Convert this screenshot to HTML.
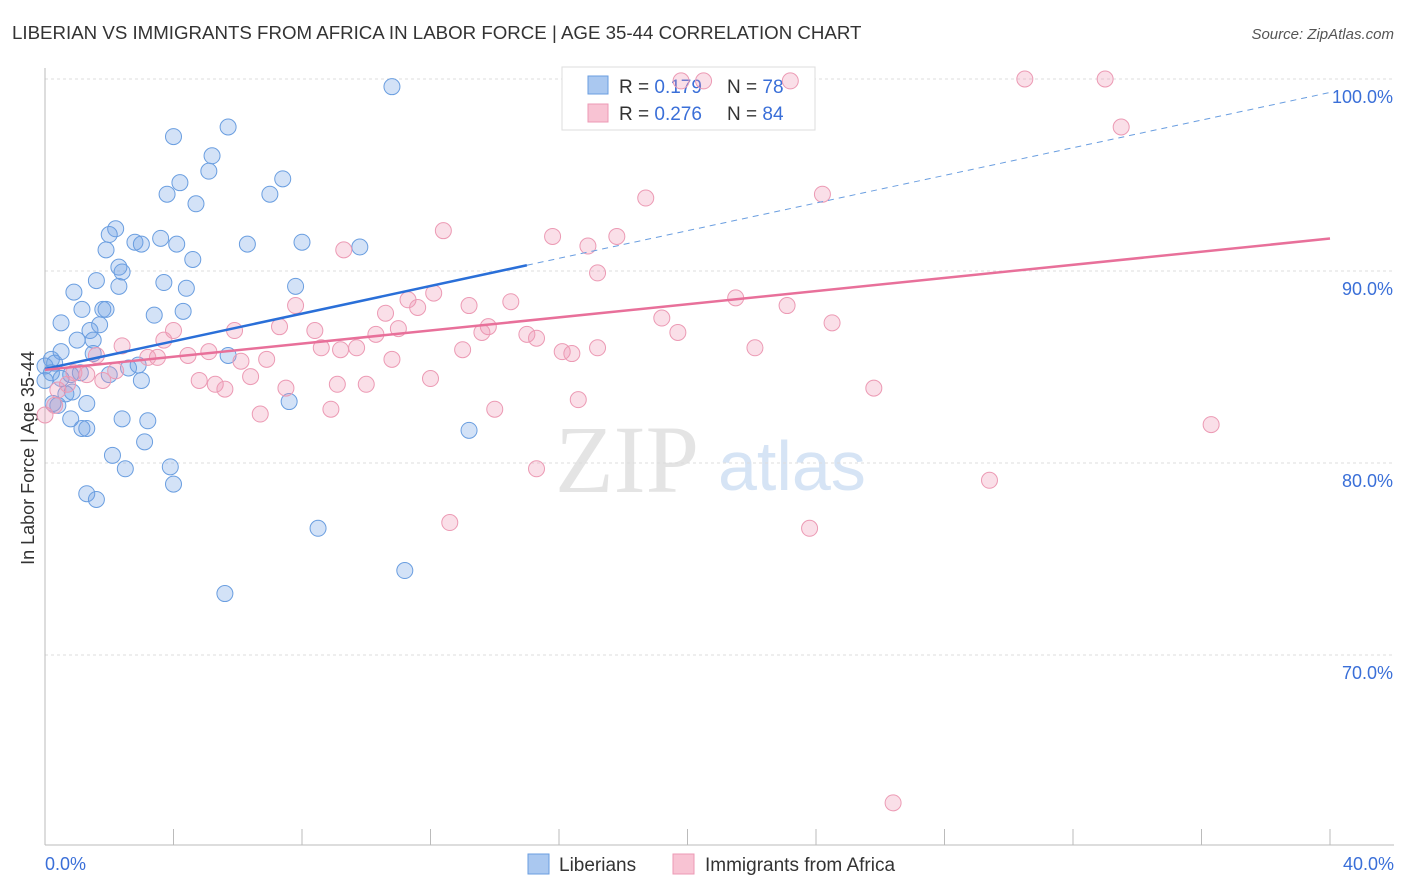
<!DOCTYPE html>
<html><head><meta charset="utf-8"><style>
body{margin:0;background:#fff;font-family:"Liberation Sans",sans-serif;}
#c{position:absolute;left:0;top:0;}
</style></head><body>
<svg id="c" width="1406" height="892">
<text x="12" y="39" font-size="18.7" fill="#333">LIBERIAN VS IMMIGRANTS FROM AFRICA IN LABOR FORCE | AGE 35-44 CORRELATION CHART</text>
<text x="1394" y="39" font-size="15" fill="#555" font-style="italic" text-anchor="end">Source: ZipAtlas.com</text>
<text transform="translate(34,458) rotate(-90)" font-size="18" fill="#333" text-anchor="middle">In Labor Force | Age 35-44</text>
<text x="555" y="492" font-size="96" fill="#e4e4e4" font-family="Liberation Serif,serif">ZIP</text>
<text x="718" y="490" font-size="70" fill="#d6e4f5">atlas</text>
<g id="grid"></g><g id="axes"></g>
<g>
<rect x="562" y="67" width="253" height="63" fill="#fff" stroke="#ddd"/>
<rect x="588" y="76" width="20" height="18" fill="#aac8f0" stroke="#6a9ee0"/>
<text x="619" y="93" font-size="19" fill="#333">R = <tspan fill="#3a6fd8">0.179</tspan></text>
<text x="727" y="93" font-size="19" fill="#333">N = <tspan fill="#3a6fd8">78</tspan></text>
<rect x="588" y="104" width="20" height="18" fill="#f8c3d3" stroke="#ec9ab4"/>
<text x="619" y="120" font-size="19" fill="#333">R = <tspan fill="#3a6fd8">0.276</tspan></text>
<text x="727" y="120" font-size="19" fill="#333">N = <tspan fill="#3a6fd8">84</tspan></text>
</g>
<g id="pts"></g><g id="lines"></g>
<g>
<rect x="528" y="854" width="21" height="20" fill="#aac8f0" stroke="#6a9ee0"/>
<text x="559" y="871" font-size="19" fill="#333">Liberians</text>
<rect x="673" y="854" width="21" height="20" fill="#f8c3d3" stroke="#ec9ab4"/>
<text x="705" y="871" font-size="19" fill="#333">Immigrants from Africa</text>
</g>
</svg>
<script>
const yTicks=[70,80,90,100];
const xTickLabels=["0.0%","40.0%"];
const blueX=[10.8,4.0,5.7,5.2,5.1,4.2,7.4,3.8,4.7,7.0,2.2,2.0,1.9,2.8,3.0,3.6,4.1,6.3,8.0,9.8,4.6,2.3,2.4,1.6,2.3,3.7,4.4,7.8,0.9,1.15,1.8,1.9,3.4,4.3,0.5,1.7,1.4,1.0,1.5,0.5,0.2,1.5,5.7,0,0.3,0.2,0,0.5,0.8,1.1,2.0,2.9,2.6,3.0,0.65,0.85,0.25,1.3,0.8,2.4,3.2,1.15,1.3,3.1,2.1,2.5,3.9,4.0,1.3,1.6,7.6,13.2,8.5,11.2,5.6,0.4];
const blueY=[99.6,97.0,97.5,96.0,95.2,94.6,94.8,94.0,93.5,94.0,92.2,91.9,91.1,91.5,91.4,91.7,91.4,91.4,91.5,91.25,90.6,90.2,89.95,89.5,89.2,89.4,89.1,89.2,88.9,88.0,88.0,88.0,87.7,87.9,87.3,87.2,86.9,86.4,86.4,85.8,85.4,85.7,85.6,85.05,85.2,84.7,84.3,84.4,84.6,84.7,84.6,85.1,84.95,84.3,83.6,83.7,83.1,83.1,82.3,82.3,82.2,81.8,81.8,81.1,80.4,79.7,79.8,78.9,78.4,78.1,83.2,81.7,76.6,74.4,73.2,83.0];
const pinkX=[19.8,20.5,23.2,30.5,33.0,33.5,18.7,24.2,12.4,15.8,16.9,17.8,9.3,17.2,21.5,23.1,19.2,24.5,19.7,14.5,13.2,11.3,12.1,11.6,10.6,11.0,7.8,7.3,8.4,5.9,4.0,2.4,3.7,13.8,13.6,15.0,15.3,13.0,16.1,16.4,17.2,22.1,10.3,9.7,9.2,8.6,5.1,4.45,3.5,3.2,1.6,6.9,6.1,10.8,2.2,1.3,0.9,1.8,6.4,4.8,5.3,5.6,7.5,10.0,12.0,9.1,0.4,0.7,0.3,16.6,14.0,6.7,8.9,36.3,25.8,15.3,29.4,12.6,23.8,26.4,0];
const pinkY=[99.9,99.9,99.9,100.0,100.0,97.5,93.8,94.0,92.1,91.8,91.3,91.8,91.1,89.9,88.6,88.2,87.55,87.3,86.8,88.4,88.2,88.5,88.85,88.1,87.8,87.0,88.2,87.1,86.9,86.9,86.9,86.1,86.4,87.1,86.8,86.7,86.5,85.9,85.8,85.7,86.0,86.0,86.7,86.0,85.9,86.0,85.8,85.6,85.5,85.5,85.6,85.4,85.3,85.4,84.8,84.6,84.7,84.3,84.5,84.3,84.1,83.85,83.9,84.1,84.4,84.1,83.8,84.1,83.0,83.3,82.8,82.55,82.8,82.0,83.9,79.7,79.1,76.9,76.6,62.3,82.5];
const blueLine=[84.9,0.36];
const pinkLine=[84.85,0.171];
const NS="http://www.w3.org/2000/svg";
const xs=v=>45+v*32.125, ys=v=>79+(100-v)*19.2;
function mk(p,t,a){const e=document.createElementNS(NS,t);for(const k in a)e.setAttribute(k,a[k]);document.getElementById(p).appendChild(e);return e;}
yTicks.forEach(t=>{
 const l=mk('grid','line',{x1:45,x2:1394,y1:ys(t),y2:ys(t),stroke:'#ddd','stroke-dasharray':'3,3'});
 
 
 const tx=mk('grid','text',{x:1393,y:ys(t)+24,'font-size':18,fill:'#3a6fd8','text-anchor':'end'});
 tx.textContent=t.toFixed(1)+'%';
 
 
});
let ax=mk('axes','line',{x1:45,x2:45,y1:68,y2:845,stroke:'#bbb'});


ax=mk('axes','line',{x1:45,x2:1394,y1:845,y2:845,stroke:'#bbb'});


for(let i=0;i<=10;i++){const tk=mk('axes','line',{x1:xs(i*4),x2:xs(i*4),y1:829,y2:845,stroke:'#bbb'});
 
 }
[[0,'start',45],[40,'end',1394]].forEach((d,i)=>{const t=mk('axes','text',{x:d[2],y:870,'font-size':18,fill:'#3a6fd8','text-anchor':d[1]});t.textContent=xTickLabels[i];
 
 });
function dots(X,Y,f,s,n){X.forEach((x,i)=>{const c=mk('pts','circle',{cx:xs(x),cy:ys(Y[i]),r:8,fill:f,stroke:s,'stroke-width':1});
 
 });}
dots(blueX,blueY,'rgba(110,160,230,0.3)','#6a9ee0','liberians');
dots(pinkX,pinkY,'rgba(240,150,180,0.3)','#ec9ab4','africa');
let l=mk('lines','line',{x1:xs(0),y1:ys(blueLine[0]),x2:xs(15),y2:ys(blueLine[0]+15*blueLine[1]),stroke:'#2a6fd8','stroke-width':2.5});


l=mk('lines','line',{x1:xs(15),y1:ys(blueLine[0]+15*blueLine[1]),x2:xs(40),y2:ys(blueLine[0]+40*blueLine[1]),stroke:'#6a9ee0','stroke-width':1,'stroke-dasharray':'6,5'});


l=mk('lines','line',{x1:xs(0),y1:ys(pinkLine[0]),x2:xs(40),y2:ys(pinkLine[0]+40*pinkLine[1]),stroke:'#e8709a','stroke-width':2.5});


</script>
</body></html>
